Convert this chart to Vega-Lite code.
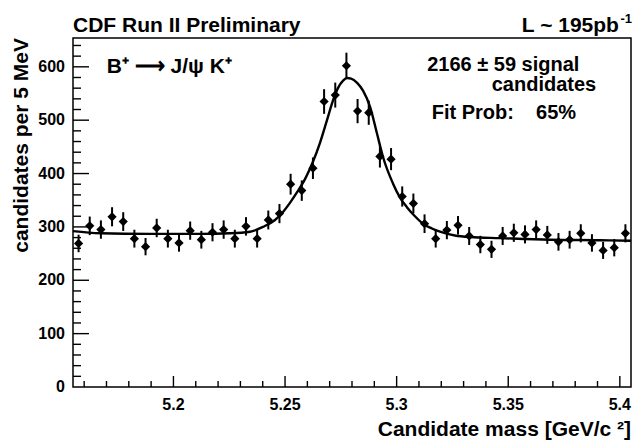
{
  "$schema": "https://vega.github.io/schema/vega-lite/v6.json",
  "width": 558,
  "height": 349,
  "autosize": {"type": "none"},
  "padding": {"left": 73, "top": 38, "right": 8, "bottom": 53},
  "background": "white",
  "config": {
    "view": {"stroke": "black", "strokeWidth": 1.5}
  },
  "datasets": {
    "bins": [
      {"m": 5.1575, "n": 269, "e": 16.4},
      {"m": 5.1625, "n": 302, "e": 17.4},
      {"m": 5.1675, "n": 295, "e": 17.2},
      {"m": 5.1725, "n": 319, "e": 17.9},
      {"m": 5.1775, "n": 310, "e": 17.6},
      {"m": 5.1825, "n": 278, "e": 16.7},
      {"m": 5.1875, "n": 263, "e": 16.2},
      {"m": 5.1925, "n": 298, "e": 17.3},
      {"m": 5.1975, "n": 278, "e": 16.7},
      {"m": 5.2025, "n": 270, "e": 16.4},
      {"m": 5.2075, "n": 293, "e": 17.1},
      {"m": 5.2125, "n": 276, "e": 16.6},
      {"m": 5.2175, "n": 290, "e": 17.0},
      {"m": 5.2225, "n": 295, "e": 17.2},
      {"m": 5.2275, "n": 278, "e": 16.7},
      {"m": 5.2325, "n": 301, "e": 17.3},
      {"m": 5.2375, "n": 278, "e": 16.7},
      {"m": 5.2425, "n": 313, "e": 17.7},
      {"m": 5.2475, "n": 325, "e": 18.0},
      {"m": 5.2525, "n": 380, "e": 19.5},
      {"m": 5.2575, "n": 368, "e": 19.2},
      {"m": 5.2625, "n": 410, "e": 20.2},
      {"m": 5.2675, "n": 535, "e": 23.1},
      {"m": 5.2725, "n": 547, "e": 23.4},
      {"m": 5.2775, "n": 602, "e": 24.5},
      {"m": 5.2825, "n": 517, "e": 22.7},
      {"m": 5.2875, "n": 514, "e": 22.7},
      {"m": 5.2925, "n": 432, "e": 20.8},
      {"m": 5.2975, "n": 427, "e": 20.7},
      {"m": 5.3025, "n": 357, "e": 18.9},
      {"m": 5.3075, "n": 344, "e": 18.5},
      {"m": 5.3125, "n": 306, "e": 17.5},
      {"m": 5.3175, "n": 278, "e": 16.7},
      {"m": 5.3225, "n": 294, "e": 17.1},
      {"m": 5.3275, "n": 303, "e": 17.4},
      {"m": 5.3325, "n": 283, "e": 16.8},
      {"m": 5.3375, "n": 267, "e": 16.3},
      {"m": 5.3425, "n": 258, "e": 16.1},
      {"m": 5.3475, "n": 283, "e": 16.8},
      {"m": 5.3525, "n": 289, "e": 17.0},
      {"m": 5.3575, "n": 286, "e": 16.9},
      {"m": 5.3625, "n": 295, "e": 17.2},
      {"m": 5.3675, "n": 285, "e": 16.9},
      {"m": 5.3725, "n": 272, "e": 16.5},
      {"m": 5.3775, "n": 276, "e": 16.6},
      {"m": 5.3825, "n": 288, "e": 17.0},
      {"m": 5.3875, "n": 270, "e": 16.4},
      {"m": 5.3925, "n": 256, "e": 16.0},
      {"m": 5.3975, "n": 261, "e": 16.2},
      {"m": 5.4025, "n": 288, "e": 17.0}
    ],
    "fit": [
      {"m": 5.155, "f": 292},
      {"m": 5.1671, "f": 288},
      {"m": 5.1895, "f": 287},
      {"m": 5.2119, "f": 287},
      {"m": 5.2253, "f": 288},
      {"m": 5.2343, "f": 291},
      {"m": 5.2401, "f": 300},
      {"m": 5.2455, "f": 313},
      {"m": 5.2491, "f": 328},
      {"m": 5.2522, "f": 345},
      {"m": 5.2554, "f": 365},
      {"m": 5.259, "f": 390},
      {"m": 5.2625, "f": 422},
      {"m": 5.2657, "f": 458},
      {"m": 5.2688, "f": 500},
      {"m": 5.2715, "f": 537},
      {"m": 5.2737, "f": 560},
      {"m": 5.276, "f": 574},
      {"m": 5.2778, "f": 579},
      {"m": 5.2796, "f": 578},
      {"m": 5.2823, "f": 570},
      {"m": 5.285, "f": 555},
      {"m": 5.2881, "f": 525},
      {"m": 5.2912, "f": 475},
      {"m": 5.2939, "f": 431},
      {"m": 5.2984, "f": 381},
      {"m": 5.3015, "f": 355},
      {"m": 5.3046, "f": 337},
      {"m": 5.3082, "f": 320},
      {"m": 5.3118, "f": 306},
      {"m": 5.3158, "f": 297},
      {"m": 5.3194, "f": 291},
      {"m": 5.3261, "f": 284},
      {"m": 5.3329, "f": 281},
      {"m": 5.3463, "f": 279},
      {"m": 5.3687, "f": 276},
      {"m": 5.3911, "f": 275},
      {"m": 5.405, "f": 274}
    ],
    "xticks": [
      {"v": 5.16, "k": "minor"}, {"v": 5.17, "k": "minor"}, {"v": 5.18, "k": "minor"}, {"v": 5.19, "k": "minor"},
      {"v": 5.2, "k": "major", "t": "5.2"},
      {"v": 5.21, "k": "minor"}, {"v": 5.22, "k": "minor"}, {"v": 5.23, "k": "minor"}, {"v": 5.24, "k": "minor"},
      {"v": 5.25, "k": "major", "t": "5.25"},
      {"v": 5.26, "k": "minor"}, {"v": 5.27, "k": "minor"}, {"v": 5.28, "k": "minor"}, {"v": 5.29, "k": "minor"},
      {"v": 5.3, "k": "major", "t": "5.3"},
      {"v": 5.31, "k": "minor"}, {"v": 5.32, "k": "minor"}, {"v": 5.33, "k": "minor"}, {"v": 5.34, "k": "minor"},
      {"v": 5.35, "k": "major", "t": "5.35"},
      {"v": 5.36, "k": "minor"}, {"v": 5.37, "k": "minor"}, {"v": 5.38, "k": "minor"}, {"v": 5.39, "k": "minor"},
      {"v": 5.4, "k": "major", "t": "5.4"}
    ],
    "yticks": [
      {"v": 0, "k": "label", "t": "0"},
      {"v": 20, "k": "minor"}, {"v": 40, "k": "minor"}, {"v": 60, "k": "minor"}, {"v": 80, "k": "minor"},
      {"v": 100, "k": "major", "t": "100"},
      {"v": 120, "k": "minor"}, {"v": 140, "k": "minor"}, {"v": 160, "k": "minor"}, {"v": 180, "k": "minor"},
      {"v": 200, "k": "major", "t": "200"},
      {"v": 220, "k": "minor"}, {"v": 240, "k": "minor"}, {"v": 260, "k": "minor"}, {"v": 280, "k": "minor"},
      {"v": 300, "k": "major", "t": "300"},
      {"v": 320, "k": "minor"}, {"v": 340, "k": "minor"}, {"v": 360, "k": "minor"}, {"v": 380, "k": "minor"},
      {"v": 400, "k": "major", "t": "400"},
      {"v": 420, "k": "minor"}, {"v": 440, "k": "minor"}, {"v": 460, "k": "minor"}, {"v": 480, "k": "minor"},
      {"v": 500, "k": "major", "t": "500"},
      {"v": 520, "k": "minor"}, {"v": 540, "k": "minor"}, {"v": 560, "k": "minor"}, {"v": 580, "k": "minor"},
      {"v": 600, "k": "major", "t": "600"},
      {"v": 620, "k": "minor"}, {"v": 640, "k": "minor"}
    ]
  },
  "layer": [
    {
      "data": {"name": "xticks"},
      "transform": [{"filter": "datum.k == 'major'"}],
      "mark": {"type": "tick", "orient": "vertical", "size": 11, "thickness": 1.4, "yOffset": -5.5, "color": "black", "opacity": 1},
      "encoding": {
        "x": {"field": "v", "type": "quantitative", "scale": {"domain": [5.155, 5.405], "nice": false, "zero": false}, "axis": null},
        "y": {"datum": 0, "type": "quantitative", "scale": {"domain": [0, 654], "nice": false, "zero": false}, "axis": null}
      }
    },
    {
      "data": {"name": "xticks"},
      "transform": [{"filter": "datum.k == 'minor'"}],
      "mark": {"type": "tick", "orient": "vertical", "size": 6, "thickness": 1.4, "yOffset": -3, "color": "black", "opacity": 1},
      "encoding": {
        "x": {"field": "v", "type": "quantitative", "scale": {"domain": [5.155, 5.405], "nice": false, "zero": false}, "axis": null},
        "y": {"datum": 0, "type": "quantitative", "scale": {"domain": [0, 654], "nice": false, "zero": false}, "axis": null}
      }
    },
    {
      "data": {"name": "yticks"},
      "transform": [{"filter": "datum.k == 'major'"}],
      "mark": {"type": "tick", "orient": "horizontal", "size": 16, "thickness": 1.4, "xOffset": 8, "color": "black", "opacity": 1},
      "encoding": {
        "y": {"field": "v", "type": "quantitative", "scale": {"domain": [0, 654], "nice": false, "zero": false}, "axis": null},
        "x": {"datum": 5.155, "type": "quantitative", "scale": {"domain": [5.155, 5.405], "nice": false, "zero": false}, "axis": null}
      }
    },
    {
      "data": {"name": "yticks"},
      "transform": [{"filter": "datum.k == 'minor'"}],
      "mark": {"type": "tick", "orient": "horizontal", "size": 8, "thickness": 1.4, "xOffset": 4, "color": "black", "opacity": 1},
      "encoding": {
        "y": {"field": "v", "type": "quantitative", "scale": {"domain": [0, 654], "nice": false, "zero": false}, "axis": null},
        "x": {"datum": 5.155, "type": "quantitative", "scale": {"domain": [5.155, 5.405], "nice": false, "zero": false}, "axis": null}
      }
    },
    {
      "data": {"name": "xticks"},
      "transform": [{"filter": "datum.k == 'major'"}],
      "mark": {"type": "text", "align": "center", "baseline": "alphabetic", "font": "Liberation Sans", "fontSize": 16, "fontWeight": "bold", "color": "black"},
      "encoding": {
        "x": {"field": "v", "type": "quantitative", "scale": {"domain": [5.155, 5.405], "nice": false, "zero": false}, "axis": null},
        "y": {"datum": -43.2, "type": "quantitative", "scale": {"domain": [0, 654], "nice": false, "zero": false}, "axis": null},
        "text": {"field": "t"}
      }
    },
    {
      "data": {"name": "yticks"},
      "transform": [{"filter": "datum.k != 'minor'"}],
      "mark": {"type": "text", "align": "right", "baseline": "middle", "font": "Liberation Sans", "fontSize": 16, "fontWeight": "bold", "color": "black"},
      "encoding": {
        "y": {"field": "v", "type": "quantitative", "scale": {"domain": [0, 654], "nice": false, "zero": false}, "axis": null},
        "x": {"datum": 5.1514, "type": "quantitative", "scale": {"domain": [5.155, 5.405], "nice": false, "zero": false}, "axis": null},
        "text": {"field": "t"}
      }
    },
    {
      "data": {"name": "bins"},
      "mark": {"type": "errorbar", "ticks": false, "color": "black", "thickness": 2},
      "encoding": {
        "x": {"field": "m", "type": "quantitative", "scale": {"domain": [5.155, 5.405], "nice": false, "zero": false}, "axis": null},
        "y": {"field": "n", "type": "quantitative", "scale": {"domain": [0, 654], "nice": false, "zero": false}, "axis": null},
        "yError": {"field": "e"}
      }
    },
    {
      "data": {"name": "bins"},
      "mark": {"type": "point", "shape": "diamond", "filled": true, "color": "black", "size": 85, "opacity": 1},
      "encoding": {
        "x": {"field": "m", "type": "quantitative", "scale": {"domain": [5.155, 5.405], "nice": false, "zero": false}, "axis": null},
        "y": {"field": "n", "type": "quantitative", "scale": {"domain": [0, 654], "nice": false, "zero": false}, "axis": null}
      }
    },
    {
      "data": {"name": "fit"},
      "mark": {"type": "line", "color": "black", "strokeWidth": 2.4, "interpolate": "monotone"},
      "encoding": {
        "x": {"field": "m", "type": "quantitative", "scale": {"domain": [5.155, 5.405], "nice": false, "zero": false}, "axis": null},
        "y": {"field": "f", "type": "quantitative", "scale": {"domain": [0, 654], "nice": false, "zero": false}, "axis": null}
      }
    },
    {
      "data": {"values": [{"m": 5.405, "n": -91.9, "t": "Candidate mass [GeV/c ²]"}]},
      "mark": {"type": "text", "align": "right", "baseline": "alphabetic", "font": "Liberation Sans", "fontSize": 21, "fontWeight": "bold", "color": "black"},
      "encoding": {
        "x": {"field": "m", "type": "quantitative", "scale": {"domain": [5.155, 5.405], "nice": false, "zero": false}, "axis": null},
        "y": {"field": "n", "type": "quantitative", "scale": {"domain": [0, 654], "nice": false, "zero": false}, "axis": null},
        "text": {"field": "t"}
      }
    },
    {
      "data": {"values": [{"m": 5.1322, "n": 654, "t": "candidates per 5 MeV"}]},
      "mark": {"type": "text", "align": "right", "baseline": "middle", "angle": 270, "font": "Liberation Sans", "fontSize": 21, "fontWeight": "bold", "color": "black"},
      "encoding": {
        "x": {"field": "m", "type": "quantitative", "scale": {"domain": [5.155, 5.405], "nice": false, "zero": false}, "axis": null},
        "y": {"field": "n", "type": "quantitative", "scale": {"domain": [0, 654], "nice": false, "zero": false}, "axis": null},
        "text": {"field": "t"}
      }
    },
    {
      "data": {"values": [
        {"m": 5.155, "n": 665, "t": "CDF Run II Preliminary"},
        {"m": 5.1701, "n": 588, "t": "B⁺ ⟶ J/ψ K⁺"}
      ]},
      "mark": {"type": "text", "align": "left", "baseline": "alphabetic", "font": "Liberation Sans", "fontSize": 21, "fontWeight": "bold", "color": "black"},
      "encoding": {
        "x": {"field": "m", "type": "quantitative", "scale": {"domain": [5.155, 5.405], "nice": false, "zero": false}, "axis": null},
        "y": {"field": "n", "type": "quantitative", "scale": {"domain": [0, 654], "nice": false, "zero": false}, "axis": null},
        "text": {"field": "t"}
      }
    },
    {
      "data": {"values": [{"m": 5.3996, "n": 665, "t": "L ~ 195pb"}]},
      "mark": {"type": "text", "align": "right", "baseline": "alphabetic", "font": "Liberation Sans", "fontSize": 21, "fontWeight": "bold", "color": "black"},
      "encoding": {
        "x": {"field": "m", "type": "quantitative", "scale": {"domain": [5.155, 5.405], "nice": false, "zero": false}, "axis": null},
        "y": {"field": "n", "type": "quantitative", "scale": {"domain": [0, 654], "nice": false, "zero": false}, "axis": null},
        "text": {"field": "t"}
      }
    },
    {
      "data": {"values": [{"m": 5.4003, "n": 682, "t": "-1"}]},
      "mark": {"type": "text", "align": "left", "baseline": "alphabetic", "font": "Liberation Sans", "fontSize": 13, "fontWeight": "bold", "color": "black"},
      "encoding": {
        "x": {"field": "m", "type": "quantitative", "scale": {"domain": [5.155, 5.405], "nice": false, "zero": false}, "axis": null},
        "y": {"field": "n", "type": "quantitative", "scale": {"domain": [0, 654], "nice": false, "zero": false}, "axis": null},
        "text": {"field": "t"}
      }
    },
    {
      "data": {"values": [
        {"m": 5.3137, "n": 592, "t": "2166 ± 59 signal"},
        {"m": 5.3426, "n": 555, "t": "candidates"},
        {"m": 5.3157, "n": 502, "t": "Fit Prob:\u00a0\u00a0\u00a0 65%"}
      ]},
      "mark": {"type": "text", "align": "left", "baseline": "alphabetic", "font": "Liberation Sans", "fontSize": 20, "fontWeight": "bold", "color": "black"},
      "encoding": {
        "x": {"field": "m", "type": "quantitative", "scale": {"domain": [5.155, 5.405], "nice": false, "zero": false}, "axis": null},
        "y": {"field": "n", "type": "quantitative", "scale": {"domain": [0, 654], "nice": false, "zero": false}, "axis": null},
        "text": {"field": "t"}
      }
    }
  ]
}
